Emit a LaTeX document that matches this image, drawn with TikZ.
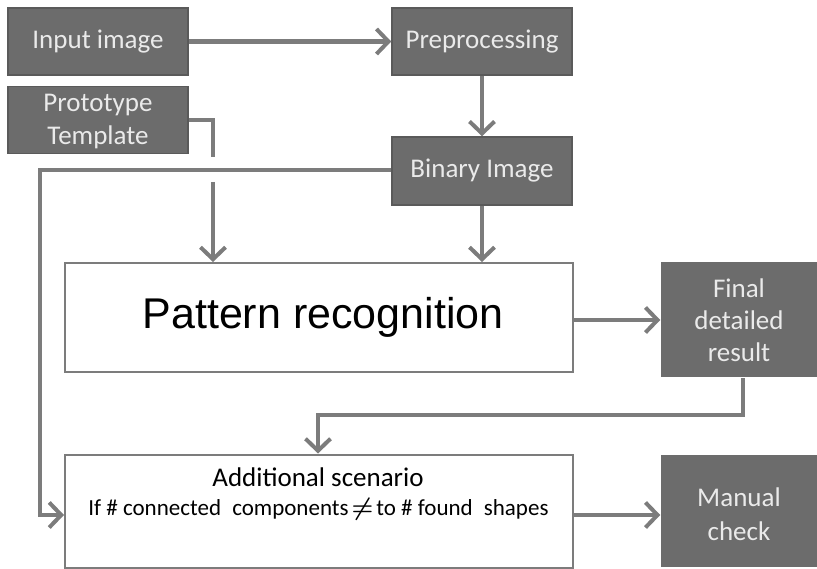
\documentclass[tikz,border=0pt]{standalone}
\usepackage{amsmath}
\usepackage{fontspec}
\setmainfont{Carlito}
\newfontfamily\arialfont{Liberation Sans}
\usetikzlibrary{arrows.meta}
\definecolor{boxfill}{HTML}{6C6C6C}
\definecolor{boxline}{HTML}{5A5A5A}
\definecolor{conn}{HTML}{7C7C7C}
\definecolor{boxtext}{HTML}{EAEAEA}
\tikzset{
  darkbox/.style={draw=boxline, line width=1.5pt, fill=boxfill, text=boxtext, font=\fontsize{27}{33}\selectfont, align=center, inner sep=0pt},
  whitebox/.style={draw=conn, line width=2pt, fill=white, inner sep=0pt, align=center},
  conn/.style={draw=conn, line width=4.5pt, -{Straight Barb[length=12pt,width=25pt,line width=4pt]}},
  plain/.style={draw=conn, line width=4.5pt},
  lbl/.style={inner sep=0pt, anchor=base}
}
\begin{document}
\begin{tikzpicture}[x=1pt,y=-1pt]
\useasboundingbox (0,0) rectangle (817,569);
\node[darkbox, minimum width=180pt, minimum height=67pt] (input) at (98,41.5) {\raisebox{-2pt}{Input image}};
\node[darkbox, minimum width=180pt, minimum height=67pt] (pre) at (482,41.5) {\raisebox{-2pt}{Preprocessing}};
\node[darkbox, minimum width=180pt, minimum height=67pt, font=\fontsize{27}{34}\selectfont] (proto) at (98,120) {};
\node[lbl, text=boxtext, font=\fontsize{27}{34}\selectfont] (protot1) at (98,112) {Prototype};
\node[lbl, text=boxtext, font=\fontsize{27}{34}\selectfont] (protot2) at (98,145) {Template};
\node[darkbox, minimum width=180pt, minimum height=68pt] (bin) at (482,171) {\raisebox{-2pt}{Binary Image}};
\node[whitebox, minimum width=508pt, minimum height=109pt, font=\arialfont\fontsize{43}{46}\selectfont] (pat) at (319,317.5) {\hspace{8pt}\raisebox{-5pt}{Pattern recognition}};
\node[darkbox, minimum width=156pt, minimum height=115pt, draw=none, font=\fontsize{27}{32}\selectfont] (final) at (739,320) {Final\\detailed\\result};
\node[whitebox, minimum width=508pt, minimum height=113pt] (add) at (319,511) {};
\node[lbl, font=\fontsize{27}{30}\selectfont] (addt1) at (318,486) {Additional scenario};
\node[lbl, font=\fontsize{23}{29}\selectfont] (addt2) at (318.5,515) {If \# connected\hspace{6pt} components\hspace{3pt}{\fontsize{28}{28}\selectfont$\boldsymbol{\neq}$}\hspace{3pt}to \# found\hspace{6pt} shapes};
\node[darkbox, minimum width=156pt, minimum height=112pt, draw=none] (man) at (739,511) {};
\node[lbl, text=boxtext, font=\fontsize{27}{34}\selectfont] (mant1) at (739,506) {Manual};
\node[lbl, text=boxtext, font=\fontsize{27}{34}\selectfont] (mant2) at (739,540) {check};
% connectors
\draw[conn] (input.east) -- (pre.west);
\draw[conn] (pre.south) -- (bin.north);
\draw[conn] (bin.south) -- (pat.north -| bin.south);
\coordinate (hl) at (40,170);
\draw[conn] (bin.west |- hl) -- (hl) -- (40,515) -- (add.west |- 0,515);
\coordinate (pt) at (213,120);
\draw[plain] (proto.east |- pt) -- (pt) -- (213,157);
\draw[conn] (213,182) -- (pat.north -| pt);
\draw[conn] (pat.east |- 0,320) -- (final.west |- 0,320);
\coordinate (fr) at (743,415);
\draw[conn] (final.south -| fr) -- (fr) -- (318,415) -- (add.north -| 318,0);
\draw[conn] (add.east |- 0,515) -- (man.west |- 0,515);
\end{tikzpicture}
\end{document}
